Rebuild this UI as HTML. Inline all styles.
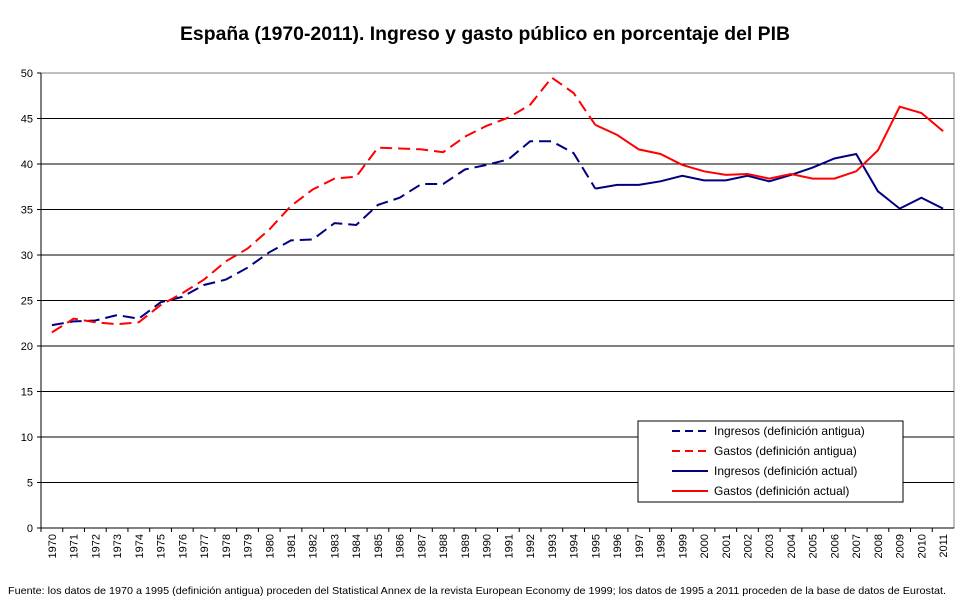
<!DOCTYPE html>
<html><head><meta charset="utf-8"><style>
body{margin:0;background:#fff;font-family:"Liberation Sans",Arial,sans-serif}
</style></head><body>
<svg id="c" width="970" height="604" xmlns="http://www.w3.org/2000/svg" font-family="Liberation Sans, Arial, sans-serif"></svg>
<script>
const years=[];for(let y=1970;y<=2011;y++)years.push(String(y));
const yTicks=[0,5,10,15,20,25,30,35,40,45,50];
const ingAnt=[22.3,22.7,22.8,23.4,23.0,24.8,25.4,26.7,27.3,28.6,30.3,31.6,31.7,33.5,33.3,35.5,36.3,37.8,37.8,39.4,39.9,40.5,42.5,42.5,41.2,37.3];
const gasAnt=[21.5,23.0,22.6,22.4,22.6,24.5,25.8,27.3,29.3,30.7,32.8,35.4,37.2,38.4,38.6,41.8,41.7,41.6,41.3,43.0,44.2,45.1,46.5,49.5,47.8,44.3];
const ingAct=[37.3,37.7,37.7,38.1,38.7,38.2,38.2,38.7,38.1,38.8,39.6,40.6,41.1,37.0,35.1,36.3,35.1];
const gasAct=[44.3,43.2,41.6,41.1,39.9,39.2,38.8,38.9,38.4,38.9,38.4,38.4,39.2,41.5,46.3,45.6,43.6];
const L=41,R=954,T=73,B=528;
const svg=document.getElementById('c');const NS='http://www.w3.org/2000/svg';
const bw=(R-L)/years.length;
const xs=i=>L+(i+0.5)*bw;const ys=v=>B-(v/50)*(B-T);
function el(t,a,p){const e=document.createElementNS(NS,t);for(const k in a)e.setAttribute(k,a[k]);(p||svg).appendChild(e);return e;}
let t=el('text',{x:485,y:40,'text-anchor':'middle','font-size':19,'font-weight':'bold',textLength:610,lengthAdjust:'spacingAndGlyphs'});t.textContent='España (1970-2011). Ingreso y gasto público en porcentaje del PIB';


let f=el('rect',{x:L,y:T,width:R-L,height:B-T,fill:'none',stroke:'#808080'});


yTicks.forEach(v=>{
 if(v>0&&v<50){const g=el('line',{x1:L,x2:R,y1:ys(v),y2:ys(v),stroke:'#000'});
 
 }
 el('line',{x1:L-4,x2:L,y1:ys(v),y2:ys(v),stroke:'#000'});
 const tx=el('text',{x:L-8,y:ys(v)+4,'text-anchor':'end','font-size':11});tx.textContent=v;
 
 
});
el('line',{x1:L,x2:L,y1:T,y2:B,stroke:'#000'});
el('line',{x1:L,x2:R,y1:B,y2:B,stroke:'#000'});
years.forEach((y,i)=>{
 el('line',{x1:L+i*bw,x2:L+i*bw,y1:B,y2:B+4,stroke:'#000'});
 const tx=el('text',{x:0,y:0,'font-size':11,'text-anchor':'end',transform:`translate(${xs(i)+4},${B+6}) rotate(-90)`});tx.textContent=y;
 
 
});
function line(vals,off,color,dash,name){
 const pts=vals.map((v,i)=>xs(i+off).toFixed(1)+','+ys(v).toFixed(1)).join(' ');
 const p=el('polyline',{points:pts,fill:'none',stroke:color,'stroke-width':2,'stroke-dasharray':dash||'none'});
 
 
}
line(ingAnt,0,'#000080','12,6','series-ingresos-antigua');
line(gasAnt,0,'#ff0000','12,6','series-gastos-antigua');
line(ingAct,25,'#000080','','series-ingresos-actual');
line(gasAct,25,'#ff0000','','series-gastos-actual');
const lg=el('g',{});


el('rect',{x:638,y:421,width:265,height:81,fill:'#fff',stroke:'#000'},lg);
const items=[['Ingresos (definición antigua)','#000080','8,5'],['Gastos (definición antigua)','#ff0000','8,5'],['Ingresos (definición actual)','#000080',''],['Gastos (definición actual)','#ff0000','']];
items.forEach((it,i)=>{const y=431+i*20;
 el('line',{x1:672,x2:708,y1:y,y2:y,stroke:it[1],'stroke-width':2,'stroke-dasharray':it[2]||'none'},lg);
 const tx=el('text',{x:714,y:y+4,'font-size':12},lg);tx.textContent=it[0];
 
 
});
const fn=el('text',{x:8,y:594,'font-size':10.5,textLength:938,lengthAdjust:'spacingAndGlyphs'});fn.textContent='Fuente: los datos de 1970 a 1995 (definición antigua) proceden del Statistical Annex de la revista European Economy de 1999; los datos de 1995 a 2011 proceden de la base de datos de Eurostat.';


</script>
</body></html>
